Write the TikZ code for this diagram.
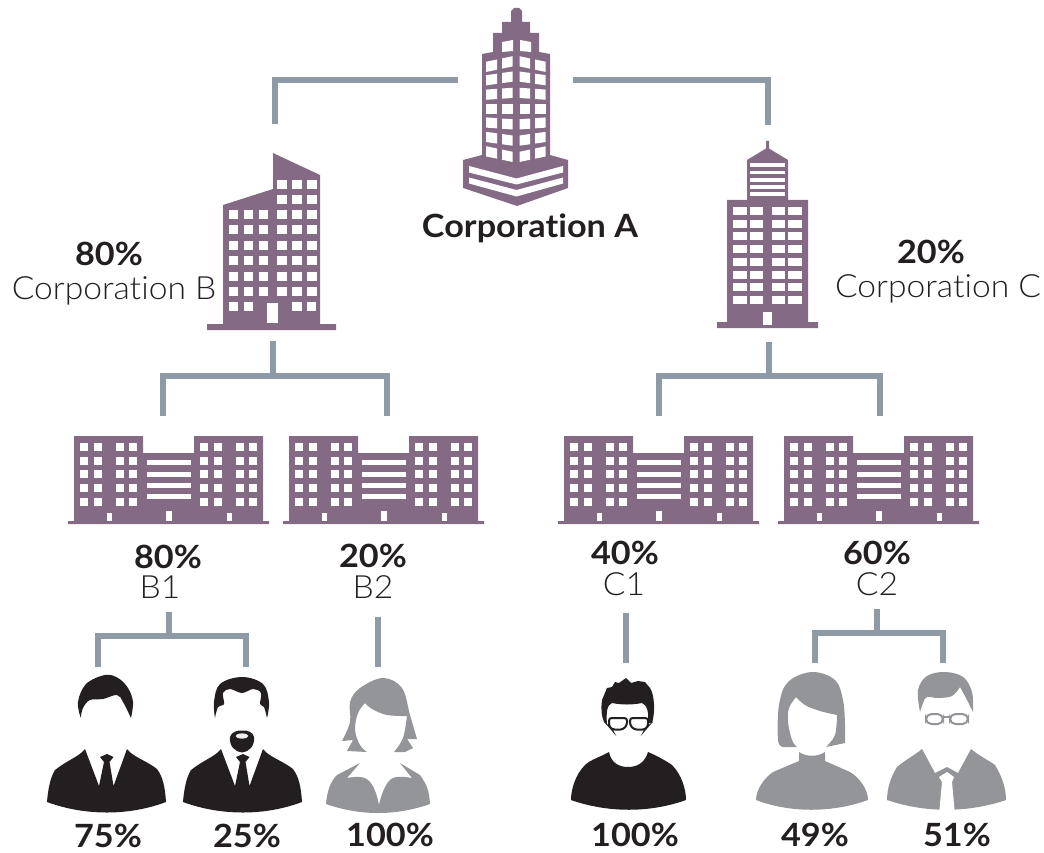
\documentclass[tikz,border=0pt]{standalone}
\usepackage{fontspec}
\setmainfont{Lato}[Ligatures=NoCommon,FakeStretch=1.07]
\newfontfamily\lightf{Lato Light}[Ligatures=NoCommon,FakeStretch=1.05]
\definecolor{plum}{HTML}{846A85}
\definecolor{linegray}{HTML}{8E9AA6}
\definecolor{pgray}{HTML}{939598}
\definecolor{pblack}{HTML}{231F20}
\tikzset{
  conn/.style={draw=linegray,line width=4.2pt},
  bld/.style={fill=plum},
  win/.style={fill=white},
  boldlab/.style={font=\fontsize{24}{28}\selectfont\bfseries,text=pblack,inner sep=0pt,anchor=base},
  lightlab/.style={font=\fontsize{24}{28}\selectfont\lightf,text=pblack,inner sep=0pt,anchor=base},
  smo/.style={smooth,tension=0.6}
}
\newcommand{\officeblock}[1]{%
  \begin{scope}[shift={(#1,0)}]
    \fill[bld] (74,436)--(143,436)--(143,453)--(194,453)--(194,436)--(263,436)--(263,521)--(269,521)--(269,524)--(68,524)--(68,521)--(74,521)--cycle;
    \foreach \wy in {443,456.5,470,483.5,497.5}{
      \foreach \wx in {80,94,116,129,200,214,236,249}{
        \fill[win] (\wx,\wy) rectangle ++(8.3,8.3);
      }
    }
    \foreach \sy in {460.3,471.8,483,494.2}{
      \fill[win] (147,\sy) rectangle (191,\sy+4.8);
    }
    \fill[win] (107,513) rectangle (111.5,521);
    \fill[win] (166,511) rectangle (172,521);
    \fill[win] (227,513) rectangle (231.5,521);
  \end{scope}}
\newcommand{\suit}[1]{%
  \begin{scope}[shift={(#1,0)}]
    \fill[pblack] (47,802) .. controls (85,816) and (129,816) .. (166,802)
      .. controls (165,787) and (163,777) .. (157,769)
      .. controls (148,762) and (137,758) .. (131,753) -- (127,749) -- (113.5,786)
      -- (109.5,762) -- (113.5,757) -- (107,754) -- (100,757) -- (104,762) -- (99,786)
      -- (85,749) -- (81,753) .. controls (75,758) and (65,762) .. (55,770)
      .. controls (50,778) and (48,790) .. (47,802) -- cycle;
  \end{scope}}
\begin{document}
\begin{tikzpicture}[x=0.75pt,y=-0.75pt]
\useasboundingbox (0,0) rectangle (1044,852);

% ---------- Corporation A tower
\fill[bld] (511,11)--(514,8)--(519,8)--(522,11)--(522,22)--(530,22)--(530,33)--(539,33)--(539,52)--(550,54)--(550,155)--(568,160)--(568,188)--(517,206)--(463,188)--(463,160)--(482,155)--(482,54)--(493,52)--(493,33)--(502,33)--(502,22)--(511,22)--cycle;
\foreach \rw/\yy in {0/55.5,1/71,2/87.5,3/104,4/119.5,5/136,6/152.5}{
  \pgfmathsetmacro{\kk}{(3-\rw)*0.07}
  \foreach \da/\db/\sgn in {30/19/-1,14/3.5/-1,3.5/14/1,19/29.5/1}{
    \fill[win] (516+\sgn*\da,\yy+\kk*\da) -- (516+\sgn*\db,\yy+\kk*\db) -- (516+\sgn*\db,\yy+\kk*\db+10.2) -- (516+\sgn*\da,\yy+\kk*\da+10.2) -- cycle;
  }
}
\fill[win] (502,42)--(513,40)--(513,51)--(502,52)--cycle;
\fill[win] (520,40)--(531,42)--(531,52)--(520,51)--cycle;
\fill[win] (469,166)--(516.5,178.5)--(563,166)--(563,172.5)--(516.5,184.5)--(469,172.5)--cycle;
\fill[win] (469,177.5)--(516.5,190)--(563,177.5)--(563,183.5)--(516.5,196.5)--(469,183.5)--cycle;

% ---------- Corporation B tower
\fill[bld] (223,205)--(273,189)--(273,153)--(320,175)--(320,324)--(336,324)--(336,330)--(207,330)--(207,324)--(223,324)--cycle;
\foreach \wy in {180,195}{\foreach \wx in {277,292,307}{\fill[win] (\wx,\wy) rectangle ++(9.5,9.3);}}
\foreach \wy in {210,225,241,256,272,287}{\foreach \wx in {228.5,243.5,258.5,277,292,307}{\fill[win] (\wx,\wy) rectangle ++(9.5,9.3);}}
\foreach \wx in {228.5,243.5,292,306.5}{\fill[win] (\wx,302) rectangle ++(9.5,9);}
\fill[win] (267,303) rectangle (278,323);

% ---------- Corporation C tower
\fill[bld] (766,141)--(769,141)--(769,148.5)--(788,160)--(788,200)--(808,200)--(808,322)--(818,322)--(818,328)--(717,328)--(717,322)--(727,322)--(727,200)--(747,200)--(747,160)--(766,148.5)--cycle;
\foreach \sy in {163.3,170.6,178,185.3,192}{\fill[win] (750,\sy) rectangle (785,\sy+3.9);}
\foreach \wy in {207,219.5,232,245,258,270.5,283,296}{\foreach \wx in {733.3,750,772,788.3}{\fill[win] (\wx,\wy) rectangle ++(13.3,8.2);}}
\fill[win] (763,312) rectangle (772,325);

% ---------- Office blocks
\officeblock{0}
\officeblock{215}
\officeblock{490}
\officeblock{710}

% ---------- People
\suit{0}
\suit{136}
% hair 1
\fill[pblack] plot[smo] coordinates {(80.7,717.7)(78,702)(86,684)(105,675)(118,678)(128,688)(133,702)(131,718)}
  -- plot[smo] coordinates {(131,718)(123,702)(117,695)(103,699)(90,700)(83,708)(80.7,717.7)} -- cycle;
% hair 2
\fill[pblack] plot[smo] coordinates {(215,718)(214,702)(220,684)(242,677)(263,684)(269,702)(267,718)}
  -- plot[smo] coordinates {(267,718)(264,707)(260,704)(261,693)(253,689)(242,693)(230,689)(223,693)(224,704)(218,707)(215,718)} -- cycle;
% beard
\fill[pblack] (230,737) .. controls (231,732) and (238,730) .. (242,730.5) .. controls (247,730) and (253,732) .. (254,737) .. controls (255,746) and (249,752) .. (242,752.5) .. controls (235,752) and (229,746) .. (230,737) -- cycle;
\fill[white!85!pgray] (242,736) ellipse (6.3 and 2.6);
% woman B2
\fill[pgray] plot[smo] coordinates {(342,741)(350,722)(350,702)(360,688)(383,678)(402,688)(410,715)(417,739)}
  -- (407,739) -- (413,748) -- (405,752) -- (394,752)
  -- plot[smo] coordinates {(394,752)(403,738)(407,716)}
  -- plot[smo] coordinates {(407,716)(387,715)(372,709)(365,703)}
  -- plot[smo] coordinates {(365,703)(358,713)(355,730)(360,745)(367,752)}
  -- (347,751) -- (353,740) -- cycle;
\fill[pgray] (326,804) .. controls (360,816) and (396,816) .. (430,804)
  .. controls (429,790) and (427,785) .. (420,775) -- (400,763) -- (412,778)
  .. controls (405,777) and (395,775) .. (390,780) .. controls (385,785) and (381,795) .. (379,805)
  .. controls (377,795) and (374,785) .. (368,780) .. controls (362,775) and (353,777) .. (347,778)
  -- (360,763) -- (337,775) .. controls (330,782) and (327,792) .. (326,804) -- cycle;
% man C1
\fill[pblack] (602,700) -- (607,688) -- (612,687) -- (615,682) -- (619,683) -- (626,678) -- (631,683) -- (638,681) -- (645,682) -- (650,688)
  .. controls (655,695) and (655,715) .. (652,723) -- (648,723)
  .. controls (649,712) and (647,705) .. (642,703) .. controls (632,705) and (622,705) .. (612,703)
  .. controls (607,705) and (606,712) .. (607,725) -- (604,722) .. controls (601,715) and (601,708) .. (602,700) -- cycle;
\draw[pblack,line width=1.5pt,rounded corners=2pt] (609,718) -- (609,726) -- (612,729.5) -- (623,729.5) -- (627,725) -- (627,718) -- cycle;
\draw[pblack,line width=1.5pt,rounded corners=2pt] (630,718) -- (630,725) -- (634,729.5) -- (645,729.5) -- (648,726) -- (648,718) -- cycle;
\fill[pblack] (571,800) .. controls (608,813) and (650,813) .. (686,800)
  .. controls (686,790) and (682,775) .. (672,765) .. controls (665,760) and (655,755) .. (648,752)
  .. controls (645,762) and (638,767) .. (628,767) .. controls (618,767) and (611,762) .. (609,752)
  .. controls (600,757) and (590,760) .. (585,765) .. controls (575,775) and (571,790) .. (571,800) -- cycle;
% woman C2
\fill[pgray] plot[smo] coordinates {(783,747)(778,740)(779,705)(788,682)(812,672)(835,680)(843,700)(845,725)(845,743)}
  -- (826,747)
  -- plot[smo] coordinates {(826,747)(835,735)(837,715)}
  -- plot[smo] coordinates {(837,715)(820,711)(805,705)(796,697)}
  -- plot[smo] coordinates {(796,697)(789,708)(788,722)(792,740)(797,747)} -- cycle;
\fill[pgray] (756,800) .. controls (790,813) and (832,813) .. (868,800)
  .. controls (868,790) and (860,778) .. (850,772) -- (825,761) -- (825,752)
  .. controls (818,757) and (806,757) .. (799,752) -- (799,761) -- (773,772)
  .. controls (764,778) and (756,790) .. (756,800) -- cycle;
% man C2
\fill[pgray] plot[smo] coordinates {(920,712)(918,690)(927,676)(945,672)(963,677)(972,692)(973,712)}
  -- plot[smo] coordinates {(973,712)(967,700)(960,687)}
  -- plot[smo] coordinates {(960,687)(952,696)(938,698)(927,697)(923,703)(920,712)} -- cycle;
\draw[pgray,line width=1.5pt,rounded corners=4pt] (926,714) rectangle (943,724);
\draw[pgray,line width=1.5pt,rounded corners=4pt] (950,714) rectangle (968,724);
\draw[pgray,line width=1.5pt] (943,717) -- (950,717);
\fill[pgray] (887,800) .. controls (925,813) and (968,813) .. (1006,800)
  .. controls (1006,790) and (1003,778) .. (995,765) .. controls (988,760) and (978,755) .. (971,749)
  -- (958,773) -- (947,767) -- (935,773) -- (922,749)
  .. controls (915,755) and (905,760) .. (897,767) .. controls (890,778) and (887,790) .. (887,800) -- cycle;
\fill[white] (939,815) -- (942,782) -- (939,777) -- (947,772) -- (954,777) -- (952,782) -- (955,815) -- cycle;

% ---------- connectors (named ends)
\coordinate (aL) at (458,80); \coordinate (bTop) at (275,124);
\coordinate (aR) at (573,80); \coordinate (cTop) at (768,125);
\draw[conn] (aL) -| (bTop);
\draw[conn] (aR) -| (cTop);

\coordinate (bBase) at (273,341); \coordinate (bJ) at (273,376);
\coordinate (b1Top) at (163,416); \coordinate (b2Top) at (387,416);
\draw[conn] (bBase) -- (bJ);
\draw[conn] (b1Top) |- (bJ) -| (b2Top);

\coordinate (cBase) at (769,342); \coordinate (cJ) at (769,376);
\coordinate (c1Top) at (659,416); \coordinate (c2Top) at (880,416);
\draw[conn] (cBase) -- (cJ);
\draw[conn] (c1Top) |- (cJ) -| (c2Top);

\coordinate (b1Lab) at (169,612); \coordinate (b1J) at (169,636);
\coordinate (p1Top) at (98,667); \coordinate (p2Top) at (246,667);
\draw[conn] (b1Lab) -- (b1J);
\draw[conn] (p1Top) |- (b1J) -| (p2Top);

\coordinate (b2Lab) at (378,617); \coordinate (p3Top) at (378,667);
\draw[conn] (b2Lab) -- (p3Top);

\coordinate (c1Lab) at (626,613); \coordinate (p4Top) at (626,663);
\draw[conn] (c1Lab) -- (p4Top);

\coordinate (c2Lab) at (877,609); \coordinate (c2J) at (877,633);
\coordinate (p5Top) at (815,663); \coordinate (p6Top) at (943,663);
\draw[conn] (c2Lab) -- (c2J);
\draw[conn] (p5Top) |- (c2J) -| (p6Top);

% ---------- labels
\node[boldlab] (tA) at (530,237) {Corporation A};
\node[boldlab] (tB80) at (109,265) {80\%};
\node[lightlab] (tB) at (114,299) {Corporation B};
\node[boldlab] (tC20) at (931,263) {20\%};
\node[lightlab] (tC) at (938,297) {Corporation C};
\node[boldlab] (t1) at (168,568) {80\%};
\node[lightlab] (t1n) at (160,598) {B1};
\node[boldlab] (t2) at (373,567) {20\%};
\node[lightlab] (t2n) at (373,598) {B2};
\node[boldlab] (t3) at (625,564) {40\%};
\node[lightlab] (t3n) at (624,595) {C1};
\node[boldlab] (t4) at (877,564) {60\%};
\node[lightlab] (t4n) at (877,595) {C2};
\node[boldlab] (p1) at (108,847) {75\%};
\node[boldlab] (p2) at (247,847) {25\%};
\node[boldlab] (p3) at (390,846) {100\%};
\node[boldlab] (p4) at (635,846) {100\%};
\node[boldlab] (p5) at (815,846) {49\%};
\node[boldlab] (p6) at (957,846) {51\%};
\end{tikzpicture}
\end{document}
